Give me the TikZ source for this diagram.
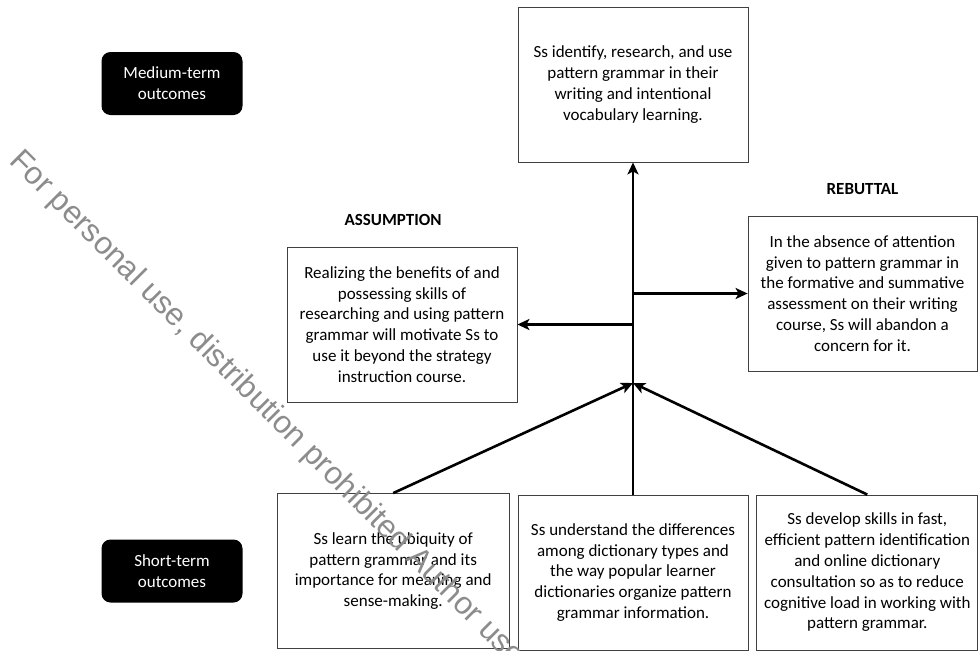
\documentclass[tikz,border=0pt]{standalone}
\usepackage{fontspec}
\setmainfont{Carlito}
\newfontfamily\markfont{Liberation Sans}
\usetikzlibrary{positioning,arrows.meta}

\begin{document}
\begin{tikzpicture}[x=1pt, y=-1pt,
    box/.style={draw=black!75, line width=0.8pt, minimum width=230pt,
        minimum height=155pt, align=center, inner sep=2pt},
    level/.style={fill=black, text=white, rounded corners=9pt,
        minimum width=141pt, minimum height=63pt, align=center},
    tag/.style={font=\fontsize{17}{20.8}\selectfont\bfseries},
    flow/.style={line width=2.6pt, -{Stealth[length=12pt, width=11pt, inset=3pt]}},
    font=\fontsize{17}{20.8}\selectfont]
\useasboundingbox (0,0) rectangle (978,651);
\clip (0,0) rectangle (978,651);

% outcome levels
\node (medium-level) [level] at (172,83.5) {Medium-term\\outcomes};
\node (short-level) [level] at (172,571) {Short-term\\outcomes};

% medium-term outcome
\node (identify) [box] at (633,84.5) {Ss identify, research, and use\\pattern grammar in their\\writing and intentional\\vocabulary learning.};

% assumption and rebuttal
\node (assumption) [box] at (402,324.5) {Realizing the benefits of and\\possessing skills of\\researching and using pattern\\grammar will motivate Ss to\\use it beyond the strategy\\instruction course.};
\node (assumption-tag) [tag, above=27pt of assumption.north, anchor=center, xshift=-9pt] {ASSUMPTION};
\node (rebuttal) [box, minimum width=229pt] at (862.5,293.5) {In the absence of attention\\given to pattern grammar in\\the formative and summative\\assessment on their writing\\course, Ss will abandon a\\concern for it.};
\node (rebuttal-tag) [tag, above=27pt of rebuttal.north, anchor=center] {REBUTTAL};

% short-term outcomes
\node (understand) [box] at (633,572.5) {Ss understand the differences\\among dictionary types and\\the way popular learner\\dictionaries organize pattern\\grammar information.};
\node (learn) [box, minimum width=232pt, left=8pt of understand, yshift=1.5pt] {Ss learn the ubiquity of\\pattern grammar and its\\importance for meaning and\\sense-making.};
\node (develop) [box, minimum width=221pt, right=8pt of understand] {Ss develop skills in fast,\\efficient pattern identification\\and online dictionary\\consultation so as to reduce\\cognitive load in working with\\pattern grammar.};

% connectors
\coordinate (hub) at (633,383);
\draw[flow] (learn.north) -- (hub);
\draw[flow] (develop.north) -- (hub);
\draw[flow] (understand.north) -- (identify.south);
\draw[flow] (identify.south |- assumption.east) -- (assumption.east);
\draw[flow] (identify.south |- rebuttal.west) -- (rebuttal.west);

% watermark
\node (watermark) [anchor=base west, rotate=-45, inner sep=0pt, text=black!45,
    font=\markfont\fontsize{31.5}{31.5}\selectfont] at (8,162)
    {For personal use, distribution prohibited Author use only};
\end{tikzpicture}
\end{document}
